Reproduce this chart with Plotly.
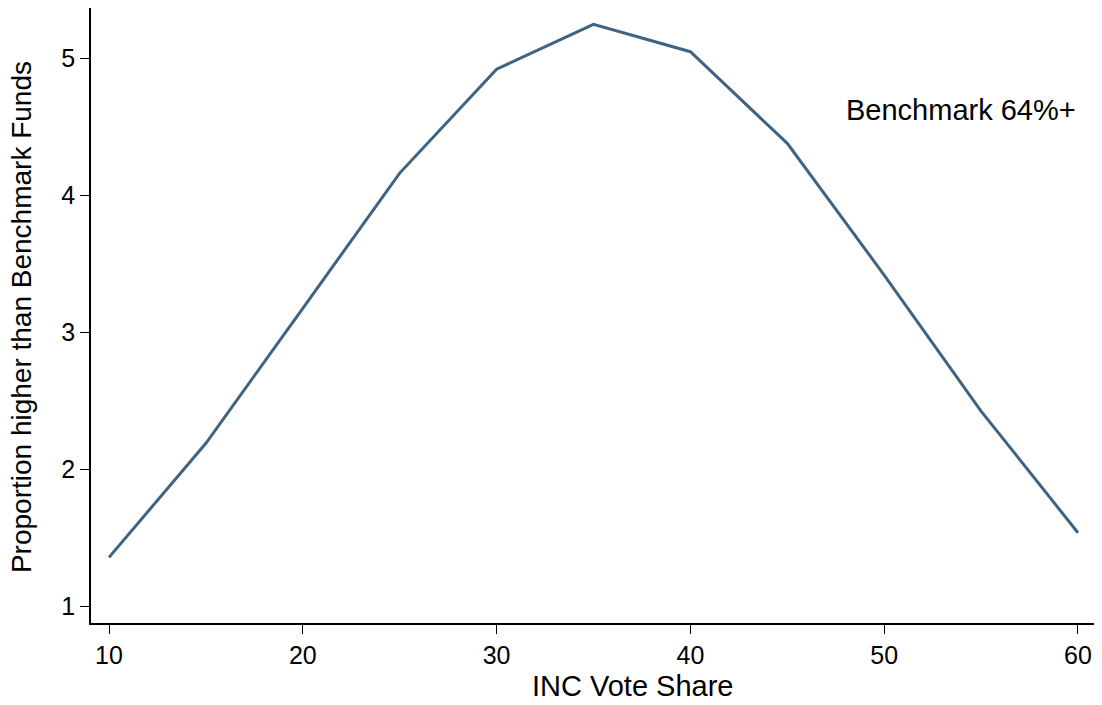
import plotly.graph_objects as go

vote_share = [10, 15, 20, 25, 30, 35, 40, 45, 50, 55, 60]
proportion = [1.355, 2.188, 3.173, 4.160, 4.918, 5.246, 5.046, 4.377, 3.416, 2.423, 1.535]
x_ticks = [10, 20, 30, 40, 50, 60]
y_ticks = [1, 2, 3, 4, 5]

FONT = "Liberation Sans, Arial, sans-serif"
LINE_COLOR = "#3f6380"

fig = go.Figure()
fig.add_trace(go.Scatter(
    x=vote_share, y=proportion, mode="lines",
    line=dict(color=LINE_COLOR, width=3),
    showlegend=False, hoverinfo="x+y",
))

fig.update_layout(
    width=1094, height=697,
    margin=dict(l=83, r=7, t=0, b=82),
    paper_bgcolor="white", plot_bgcolor="white",
    font=dict(family=FONT, color="black"),
    xaxis=dict(
        range=[9.07, 60.88], tickvals=x_ticks, ticks="outside", ticklen=9,
        tickwidth=1, tickcolor="black", showline=True, linecolor="black",
        linewidth=1.5, showgrid=False, zeroline=False,
        tickfont=dict(size=25, family=FONT, color="black"),
    ),
    yaxis=dict(
        range=[0.876, 5.365], tickvals=y_ticks, ticks="outside", ticklen=9,
        tickwidth=1, tickcolor="black", showline=True, linecolor="black",
        linewidth=1.5, showgrid=False, zeroline=False,
        tickfont=dict(size=25, family=FONT, color="black"),
    ),
    annotations=[
        dict(text="Benchmark 64%+", x=60, y=4.62, xref="x", yref="y",
             xanchor="right", yanchor="middle", showarrow=False,
             font=dict(size=29, family=FONT, color="black")),
        dict(text="INC Vote Share", x=0.54, y=-0.102, xref="paper", yref="paper",
             xanchor="center", yanchor="middle", showarrow=False,
             font=dict(size=29, family=FONT, color="black")),
        dict(text="Proportion higher than Benchmark Funds", x=-0.069, y=0.497,
             xref="paper", yref="paper", xanchor="center", yanchor="middle",
             textangle=-90, showarrow=False,
             font=dict(size=28, family=FONT, color="black")),
    ],
)

fig.write_html("out.html")
